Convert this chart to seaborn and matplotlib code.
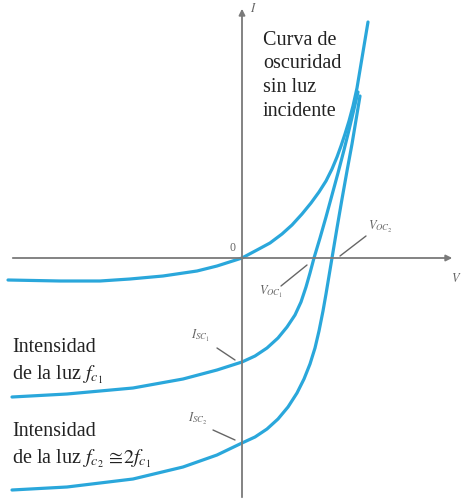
import matplotlib
matplotlib.use("Agg")
import matplotlib.pyplot as plt
import seaborn as sns

# curves (arbitrary units, origin at V=0, I=0)
dark_v = [-234, -182, -142, -112, -79, -45, -25, 0, 15, 28, 40, 50, 60, 69, 77, 84,
          90, 95, 99, 103, 107, 111, 115, 120, 126]
dark_i = [-22, -23, -23, -21, -18, -13, -8, 0, 8, 15, 24, 33, 44, 55, 66, 77,
          89, 101, 112, 124, 137, 152, 170, 200, 236]

fc1_v = [-230, -175, -109, -59, -25, 0, 13, 25, 36, 45, 53, 59, 64, 68, 72,
         78, 84, 90, 96, 102, 107, 112, 116]
fc1_i = [-139, -136, -130, -121, -112, -104, -98, -90, -80, -69, -57, -44, -29, -15, 0,
         20, 41, 63, 85, 108, 128, 149, 166]

fc2_v = [-230, -175, -109, -59, -25, 0, 13, 25, 36, 46, 55, 62, 68, 73, 77, 81, 84, 87, 90,
         95, 100, 105, 110, 114, 118]
fc2_i = [-232, -229, -221, -209, -197, -185, -179, -171, -161, -149, -135, -121, -106, -90,
         -73, -53, -36, -18, 0, 30, 59, 87, 114, 138, 162]

dark_text = ["Curva de", "oscuridad", "sin luz", "incidente"]
fc1_text = ["Intensidad", r"de la luz $f_{c_1}$"]
fc2_text = ["Intensidad", r"de la luz $f_{c_2}\,\cong\!2f_{c_1}$"]

sns.set_theme(style="white")
plt.rcParams["font.family"] = ["Liberation Serif", "DejaVu Serif"]
plt.rcParams["mathtext.fontset"] = "stix"

curve_color = "#2aa7db"
axis_color = "#7a7a7a"
label_gray = "#666666"

fig = plt.figure(figsize=(4.62, 5.0), dpi=100)
ax = fig.add_axes([0, 0, 1, 1])
ax.set_xlim(-242, 220)
ax.set_ylim(-242, 258)
ax.set_axis_off()

# axes with arrow heads
ax.annotate("", xy=(213, 0), xytext=(-232, 0),
            arrowprops=dict(arrowstyle="-|>", color=axis_color, lw=1.3, mutation_scale=9))
ax.annotate("", xy=(0, 252), xytext=(0, -242),
            arrowprops=dict(arrowstyle="-|>", color=axis_color, lw=1.3, mutation_scale=9))

for xs, ys in [(dark_v, dark_i), (fc1_v, fc1_i), (fc2_v, fc2_i)]:
    sns.lineplot(x=xs, y=ys, sort=False, estimator=None, ax=ax,
                 color=curve_color, linewidth=2.3, solid_capstyle="round", solid_joinstyle="round")

# small axis labels
ax.text(-9, 10, "0", fontsize=8.5, color=label_gray, ha="center", va="center")
ax.text(11, 250, "$I$", fontsize=9, color=label_gray, ha="center", va="center")
ax.text(214, -20, "$V$", fontsize=9, color=label_gray, ha="center", va="center")

# leader lines and their labels
ax.plot([98, 124], [2, 22], color=label_gray, lw=1)
ax.text(126, 31, r"$V_{OC_2}$", fontsize=9, color=label_gray, ha="left", va="center")
ax.plot([65, 39], [-7, -28], color=label_gray, lw=1)
ax.text(29, -34, r"$V_{OC_1}$", fontsize=9, color=label_gray, ha="center", va="center")
ax.plot([-25, -7], [-90, -102], color=label_gray, lw=1)
ax.text(-42, -78, r"$I_{SC_1}$", fontsize=9, color=label_gray, ha="center", va="center")
ax.plot([-29, -7], [-172, -182], color=label_gray, lw=1)
ax.text(-44, -161, r"$I_{SC_2}$", fontsize=9, color=label_gray, ha="center", va="center")

# descriptive text
for k, line in enumerate(dark_text):
    ax.text(21, 213 - 23.5 * k, line, fontsize=14.5, color="#222222", va="baseline", ha="left")
for k, line in enumerate(fc1_text):
    ax.text(-230, -94 - 27 * k, line, fontsize=14.5, color="#222222", va="baseline", ha="left")
for k, line in enumerate(fc2_text):
    ax.text(-230, -178 - 27 * k, line, fontsize=14.5, color="#222222", va="baseline", ha="left")

fig.savefig("out.png", dpi=100, facecolor="white")
